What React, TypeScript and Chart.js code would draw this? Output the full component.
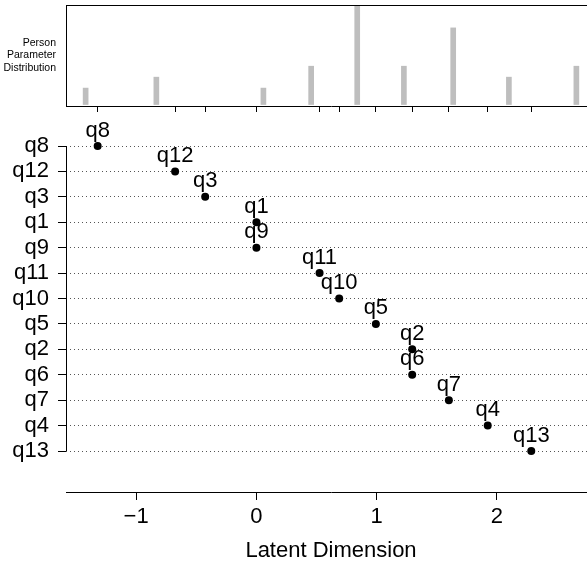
import React, { useEffect, useRef } from 'react';
import { Chart, registerables } from 'chart.js';

Chart.register(...registerables);

// ---- data ----
const itemNames = ['q8', 'q12', 'q3', 'q1', 'q9', 'q11', 'q10', 'q5', 'q2', 'q6', 'q7', 'q4', 'q13'];
const itemLocations = [-1.32, -0.676, -0.426, 0.0, 0.0, 0.525, 0.688, 0.993, 1.295, 1.295, 1.6, 1.923, 2.285];
const personLocations = [-1.42, -0.832, 0.058, 0.455, 0.838, 1.226, 1.636, 2.099, 2.66];
const personCounts = [3, 5, 3, 7, 18, 7, 14, 5, 7];
const xTickValues = [-1, 0, 1, 2];
const distLabel = ['Person', 'Parameter', 'Distribution'];
const xTitle = 'Latent Dimension';

const FONT = "'Liberation Sans', Arial, Helvetica, sans-serif";

const allLocs = [...itemLocations, ...personLocations];
const lo = Math.min(...allLocs);
const hi = Math.max(...allLocs);
const ext = (hi - lo) * 0.04;
const xMin = lo - ext;
const xMax = hi + ext;

const fmt = (v: number) => (v < 0 ? '\u2212' + Math.abs(v) : String(v));

const noPad = (s: any) => {
  s.paddingTop = 0;
  s.paddingBottom = 0;
  s.paddingLeft = 0;
  s.paddingRight = 0;
};

export default function App() {
  const topRef = useRef<HTMLCanvasElement | null>(null);
  const botRef = useRef<HTMLCanvasElement | null>(null);

  useEffect(() => {
    const topPlugin = {
      id: 'topDecor',
      afterDraw(chart: any) {
        const { ctx, chartArea } = chart;
        ctx.save();
        ctx.strokeStyle = '#000';
        ctx.lineWidth = 1;
        ctx.beginPath();
        ctx.moveTo(chartArea.left, Math.round(chartArea.top) + 0.5);
        ctx.lineTo(chartArea.right, Math.round(chartArea.top) + 0.5);
        ctx.stroke();
        ctx.fillStyle = '#000';
        ctx.font = `10.5px ${FONT}`;
        ctx.textAlign = 'right';
        ctx.textBaseline = 'middle';
        const mid = (chartArea.top + chartArea.bottom) / 2;
        distLabel.forEach((t, i) => {
          ctx.fillText(t, 56, mid + (i - 1) * 12.3);
        });
        ctx.restore();
      },
    };

    const top = new Chart(topRef.current as HTMLCanvasElement, {
      type: 'bar',
      data: {
        datasets: [
          {
            data: personLocations.map((x, i) => ({ x, y: personCounts[i] })) as any,
            backgroundColor: '#bebebe',
            borderWidth: 0,
            barThickness: 5,
          },
        ],
      },
      options: {
        animation: false,
        responsive: false,
        devicePixelRatio: 1,
        layout: { padding: { left: 0, right: 4, top: 5, bottom: 0 } },
        plugins: { legend: { display: false }, tooltip: { enabled: false } },
        scales: {
          x: {
            type: 'linear',
            min: xMin,
            max: xMax,
            offset: false,
            afterBuildTicks: (s: any) => {
              s.ticks = itemLocations.map((v) => ({ value: v }));
            },
            afterFit: (s: any) => {
              s.height = 9;
              noPad(s);
            },
            ticks: { display: false },
            grid: { offset: false, drawOnChartArea: false, drawTicks: true, tickLength: 6, tickColor: '#000', tickWidth: 1 },
            border: { display: true, color: '#000', width: 1 },
          },
          y: {
            type: 'linear',
            min: -0.27,
            max: 18.18,
            afterFit: (s: any) => {
              s.width = 66;
              noPad(s);
            },
            ticks: { display: false },
            grid: { display: false, drawTicks: false },
            border: { display: true, color: '#000', width: 1 },
          },
        },
      } as any,
      plugins: [topPlugin],
    });

    const botPlugin = {
      id: 'botDecor',
      afterDraw(chart: any) {
        const { ctx, chartArea } = chart;
        const ys = chart.scales.y;
        const meta = chart.getDatasetMeta(0);
        ctx.save();
        // y axis line spanning first to last item
        ctx.strokeStyle = '#000';
        ctx.lineWidth = 1;
        ctx.beginPath();
        const x = Math.round(chartArea.left) + 0.5;
        ctx.moveTo(x, ys.getPixelForValue(itemNames.length));
        ctx.lineTo(x, ys.getPixelForValue(1));
        ctx.stroke();
        // point labels
        ctx.fillStyle = '#000';
        ctx.font = `22px ${FONT}`;
        ctx.textAlign = 'center';
        ctx.textBaseline = 'alphabetic';
        meta.data.forEach((pt: any, i: number) => {
          ctx.fillText(itemNames[i], pt.x, pt.y - 9.5);
        });
        ctx.restore();
      },
    };

    const bot = new Chart(botRef.current as HTMLCanvasElement, {
      type: 'scatter',
      data: {
        datasets: [
          {
            data: itemLocations.map((x, i) => ({ x, y: itemNames.length - i })),
            pointRadius: 4,
            pointBackgroundColor: '#000',
            pointBorderWidth: 0,
            showLine: false,
          },
        ],
      },
      options: {
        animation: false,
        responsive: false,
        devicePixelRatio: 1,
        layout: { padding: { left: 0, right: 4, top: 15, bottom: 0 } },
        plugins: { legend: { display: false }, tooltip: { enabled: false } },
        scales: {
          x: {
            type: 'linear',
            min: xMin,
            max: xMax,
            afterBuildTicks: (s: any) => {
              s.ticks = xTickValues.map((v) => ({ value: v }));
            },
            afterFit: (s: any) => {
              s.height = 71;
              noPad(s);
            },
            ticks: {
              color: '#000',
              font: { family: FONT, size: 22 },
              padding: 4,
              maxRotation: 0,
              autoSkip: false,
              callback: (v: any) => fmt(Number(v)),
            },
            grid: { drawOnChartArea: false, drawTicks: true, tickLength: 8, tickColor: '#000' },
            border: { display: true, color: '#000', width: 1 },
            title: {
              display: true,
              text: xTitle,
              color: '#000',
              font: { family: FONT, size: 22, lineHeight: 1.1 },
              padding: { top: 0, bottom: 0 },
            },
          },
          y: {
            type: 'linear',
            min: -0.613,
            max: 13.63,
            afterBuildTicks: (s: any) => {
              s.ticks = itemNames.map((_, i) => ({ value: itemNames.length - i }));
            },
            afterFit: (s: any) => {
              s.width = 66;
              noPad(s);
            },
            ticks: {
              color: '#000',
              font: { family: FONT, size: 22 },
              padding: 9,
              autoSkip: false,
              callback: (v: any) => itemNames[itemNames.length - Number(v)],
            },
            grid: {
              color: '#555',
              lineWidth: 1,
              drawTicks: true,
              tickLength: 8,
              tickColor: '#000',
              tickBorderDash: [],
            },
            border: { display: false, dash: [1, 3] },
          },
        },
      } as any,
      plugins: [botPlugin],
    });

    return () => {
      top.destroy();
      bot.destroy();
    };
  }, []);

  return (
    <div
      style={{
        position: 'absolute',
        left: 0,
        top: 0,
        width: 587,
        height: 563,
        overflow: 'hidden',
        background: '#fff',
      }}
    >
      <canvas
        ref={topRef}
        width={600}
        height={115}
        style={{ position: 'absolute', left: 0, top: 0, width: 600, height: 115 }}
      />
      <canvas
        ref={botRef}
        width={600}
        height={448}
        style={{ position: 'absolute', left: 0, top: 115, width: 600, height: 448 }}
      />
    </div>
  );
}
